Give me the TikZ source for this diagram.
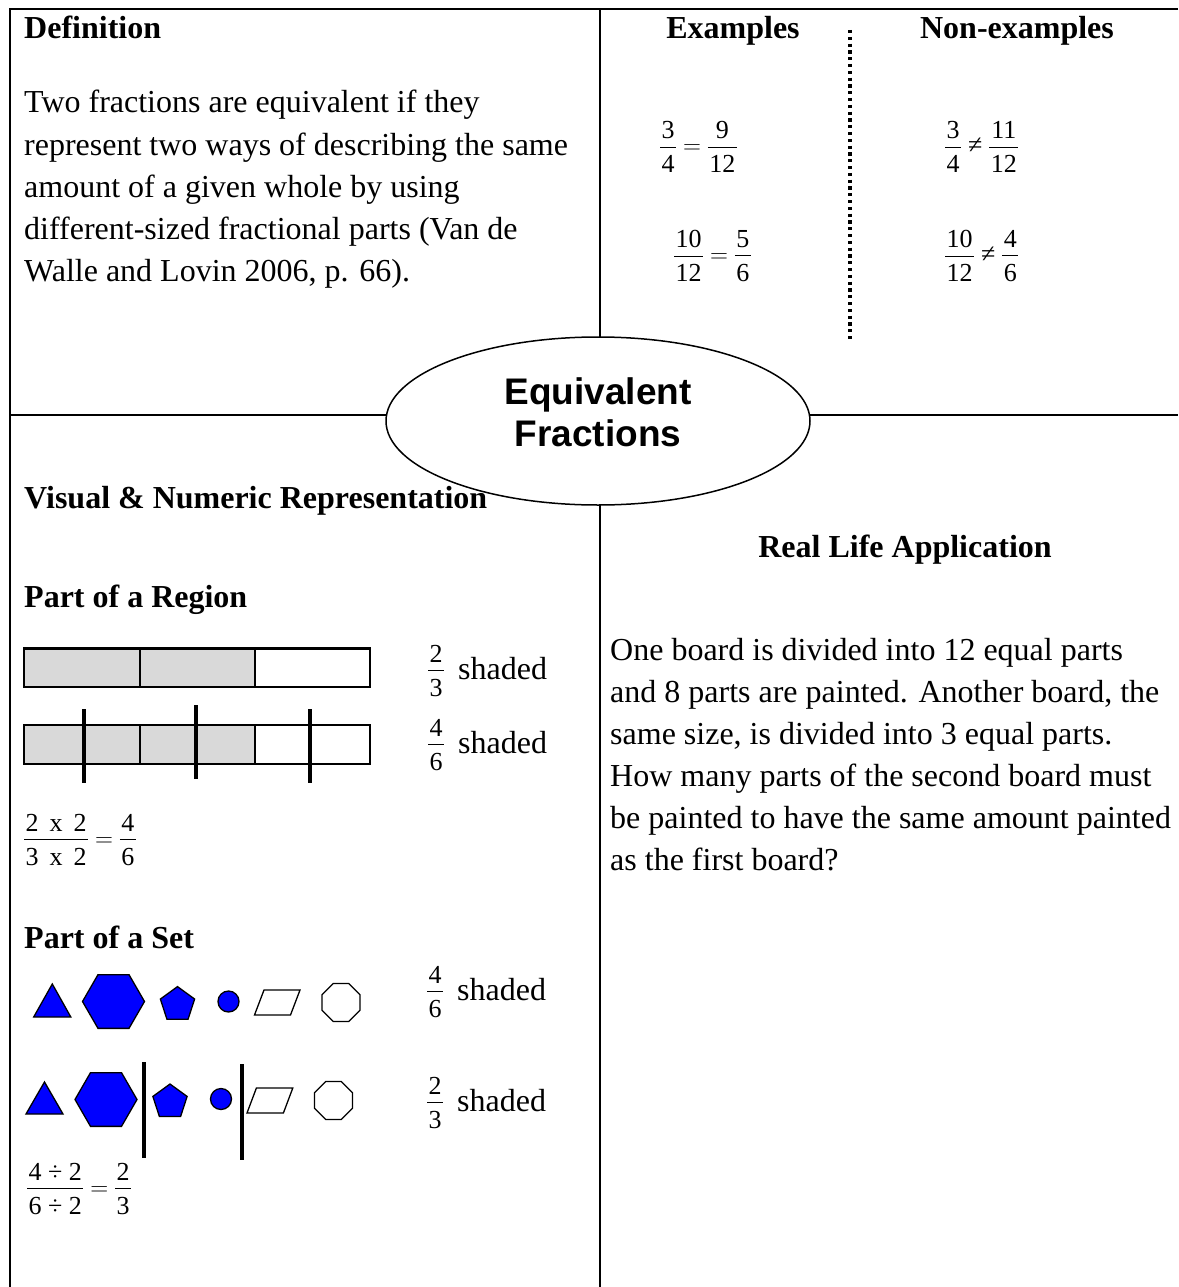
\documentclass[tikz,border=0pt]{standalone}
\usepackage{fontspec}
\setmainfont{Liberation Serif}
\newfontfamily\arialfont{Liberation Sans}
\usetikzlibrary{shapes.geometric}
\definecolor{shadegray}{HTML}{D9D9D9}
\definecolor{setblue}{HTML}{0000FF}
\newcommand\fr[2]{\ensuremath{\vcenter{\offinterlineskip\halign{\hfil\kern1.5pt##\kern1.5pt\hfil\cr #1\cr\noalign{\kern 8pt\hrule height 0.9pt\kern 8pt}#2\cr}}}}
\newcommand\noteq{\mathrel{\hbox{≠}}}
\tikzset{
  bodytext/.style={font=\fontsize{32}{42}\selectfont, inner sep=0pt},
  headtext/.style={font=\fontsize{32}{42}\selectfont\bfseries, inner sep=0pt},
  fractext/.style={font=\fontsize{26}{30}\selectfont, inner sep=0pt},
  frameline/.style={line width=2.6pt},
  barbox/.style={draw, line width=2.2pt},
  cutline/.style={line width=3.5pt},
  blueshape/.style={fill=setblue, draw=black, line width=1.3pt, line join=miter},
  whiteshape/.style={fill=white, draw=black, line width=1.3pt},
}
\begin{document}
\begin{tikzpicture}[x=1pt,y=-1pt]
\useasboundingbox (0,0) rectangle (1178,1287);
% frame and quadrant lines
\coordinate (tl) at (10,9);
\coordinate (tr) at (1178,9);
\coordinate (bl) at (10,1287);
\coordinate (topmid) at (600,9);
\coordinate (botmid) at (600,1287);
\coordinate (leftmid) at (10,415);
\coordinate (rightmid) at (1178,415);
\draw[frameline] (tr) -- (tl) -- (bl);
\draw[frameline] (topmid) -- (botmid);
\draw[frameline] (leftmid) -- (rightmid);
% dotted divider
\coordinate (dotA) at (850,30);
\coordinate (dotB) at (850,339);
\draw[line width=3.4pt, dash pattern=on 3.2pt off 3.6pt] (dotA) -- (dotB);

% Definition quadrant
\node[headtext, anchor=base west] (defhead) at (24,39) {Definition};
\foreach \t [count=\i from 0] in {
  {Two fractions are equivalent if they},
  {represent two ways of describing the same},
  {amount of a given whole by using},
  {different-sized fractional parts (Van de},
  {Walle and Lovin 2006, p. 66).}}
  \node[bodytext, anchor=base west] (defline\i) at (24,113+42*\i) {\t};

% Examples quadrant
\node[headtext, anchor=base] (exhead) at (733,39) {Examples};
\node[headtext, anchor=base] (nexhead) at (1017,39) {Non-examples};
\node[fractext, anchor=west] (exA) at (660,147) {$\fr{3}{4}\mathrel{=}\fr{9}{12}$};
\node[fractext, anchor=west] (exB) at (674,256) {$\fr{10}{12}\mathrel{=}\fr{5}{6}$};
\node[fractext, anchor=west] (nexA) at (945,147) {$\fr{3}{4}\noteq\fr{11}{12}$};
\node[fractext, anchor=west] (nexB) at (945,256) {$\fr{10}{12}\noteq\fr{4}{6}$};

% Visual & numeric quadrant
\node[headtext, anchor=base west] (vishead) at (24,508) {Visual \& Numeric Representation};
\node[headtext, anchor=base west] (reghead) at (24,607) {Part of a Region};
% bar 1
\draw[barbox, fill=shadegray] (24,648.5) rectangle (140,687);
\draw[barbox, fill=shadegray] (140,648.5) rectangle (255,687);
\draw[barbox, fill=white] (255,648.5) rectangle (370,687);
% bar 2
\draw[barbox, fill=shadegray] (24,725) rectangle (140,764);
\draw[barbox, fill=shadegray] (140,725) rectangle (255,764);
\draw[barbox, fill=white] (255,725) rectangle (370,764);
\draw[cutline] (84,709) -- (84,783);
\draw[cutline] (196,705) -- (196,779);
\draw[cutline] (310,709) -- (310,783);
\node[fractext] (regA) at (436,671) {$\fr{2}{3}$};
\node[bodytext, anchor=base west] (regAtxt) at (458,679) {shaded};
\node[fractext] (regB) at (436,745) {$\fr{4}{6}$};
\node[bodytext, anchor=base west] (regBtxt) at (458,753) {shaded};
\node[fractext, anchor=west] (regeq) at (24,840) {$\fr{2\kern11pt x\kern11pt 2}{3\kern11pt x\kern11pt 2}\mathrel{=}\fr{4}{6}$};

\node[headtext, anchor=base west] (sethead) at (24,948) {Part of a Set};
% set row 1
\draw[blueshape] (33.7,1017) -- (52.3,984) -- (70.8,1017) -- cycle;
\draw[blueshape] (113.5,1001.5) +(0:31) -- +(60:31) -- +(120:31) -- +(180:31) -- +(240:31) -- +(300:31) -- cycle;
\draw[blueshape] (177.5,1004.6) +(-90:18) -- +(-18:18) -- +(54:18) -- +(126:18) -- +(198:18) -- cycle;
\draw[blueshape] (228.5,1001.5) circle[radius=10.5];
\draw[whiteshape] (254.5,1015) -- (264,990) -- (300,990) -- (290.5,1015) -- cycle;
\draw[whiteshape] (341,1002.5) +(22.5:20.5) -- +(67.5:20.5) -- +(112.5:20.5) -- +(157.5:20.5) -- +(202.5:20.5) -- +(247.5:20.5) -- +(292.5:20.5) -- +(337.5:20.5) -- cycle;
\node[fractext] (setA) at (435,992) {$\fr{4}{6}$};
\node[bodytext, anchor=base west] (setAtxt) at (457,1000) {shaded};
% set row 2
\draw[blueshape] (26,1114) -- (44.5,1082) -- (63,1114) -- cycle;
\draw[blueshape] (106,1099.5) +(0:31) -- +(60:31) -- +(120:31) -- +(180:31) -- +(240:31) -- +(300:31) -- cycle;
\draw[cutline] (144,1062) -- (144,1158);
\draw[blueshape] (170,1102) +(-90:18) -- +(-18:18) -- +(54:18) -- +(126:18) -- +(198:18) -- cycle;
\draw[blueshape] (221,1099) circle[radius=10.5];
\draw[cutline] (242,1064) -- (242,1160);
\draw[whiteshape] (247,1113) -- (256.4,1088) -- (292.8,1088) -- (283.4,1113) -- cycle;
\draw[whiteshape] (333.5,1100.5) +(22.5:20.5) -- +(67.5:20.5) -- +(112.5:20.5) -- +(157.5:20.5) -- +(202.5:20.5) -- +(247.5:20.5) -- +(292.5:20.5) -- +(337.5:20.5) -- cycle;
\node[fractext] (setB) at (435,1103) {$\fr{2}{3}$};
\node[bodytext, anchor=base west] (setBtxt) at (457,1111) {shaded};
\node[fractext, anchor=west] (seteq) at (27,1189) {$\fr{4 ÷ 2}{6 ÷ 2}\mathrel{=}\fr{2}{3}$};

% Real life quadrant
\node[headtext, anchor=base] (realhead) at (905,557) {Real Life Application};
\foreach \t [count=\i from 0] in {
  {One board is divided into 12 equal parts},
  {and 8 parts are painted. Another board, the},
  {same size, is divided into 3 equal parts.},
  {How many parts of the second board must},
  {be painted to have the same amount painted},
  {as the first board?}}
  \node[bodytext, anchor=base west] (realline\i) at (610,660+42*\i) {\t};

% central ellipse with title
\node[draw, ellipse, fill=white, line width=1.5pt, minimum width=424pt, minimum height=168pt, inner sep=0pt, align=center, font=\arialfont\bfseries\fontsize{37}{42}\selectfont] (title) at (598,421) {Equivalent\\Fractions\rule[-17pt]{0pt}{0pt}};
\end{tikzpicture}
\end{document}
